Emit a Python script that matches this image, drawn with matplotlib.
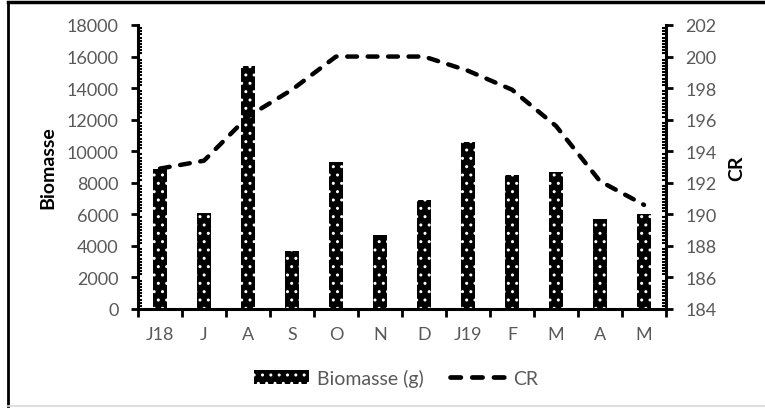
import matplotlib
matplotlib.use("Agg")
import matplotlib.pyplot as plt
from matplotlib.lines import Line2D
from matplotlib.ticker import MultipleLocator
import numpy as np

plt.rcParams['font.family'] = ['Lato', 'DejaVu Sans']
plt.rcParams['hatch.linewidth'] = 1.0

# data
months = ['J18', 'J', 'A', 'S', 'O', 'N', 'D', 'J19', 'F', 'M', 'A', 'M']
biomasse = [8900, 6100, 15400, 3700, 9300, 4700, 6900, 10600, 8500, 8700, 5700, 6000]
cr = [192.9, 193.4, 196.2, 197.9, 200.0, 200.0, 200.0, 199.1, 197.9, 195.6, 192.1, 190.6]

grey = '#595959'
dash = (0, (2.2, 2.4))

fig = plt.figure(figsize=(7.65, 4.10), dpi=100)
ax = fig.add_axes([138 / 765, 1 - 310 / 410, (666 - 138) / 765, (310 - 26) / 410])
ax2 = ax.twinx()

x = np.arange(len(months))
bars = ax.bar(x, biomasse, width=0.3, color='black', edgecolor='white', linewidth=0,
              hatch='..', label='Biomasse (g)', zorder=2)
line, = ax2.plot(x, cr, color='black', lw=3.2, ls=dash, dash_capstyle='round',
                 solid_capstyle='round', label='CR', zorder=3)

ax.set_xlim(-0.5, len(months) - 0.5)
ax.set_ylim(0, 18000)
ax2.set_ylim(184, 202)
ax.yaxis.set_major_locator(MultipleLocator(2000))
ax.yaxis.set_minor_locator(MultipleLocator(200))
ax2.yaxis.set_major_locator(MultipleLocator(2))
ax2.yaxis.set_minor_locator(MultipleLocator(0.2))

ax.set_xticks(x)
ax.set_xticklabels(months)
ax.set_xticks(np.arange(len(months) + 1) - 0.5, minor=True)

for a in (ax, ax2):
    for s in a.spines.values():
        s.set_visible(False)
ax.spines['left'].set_visible(True)
ax.spines['bottom'].set_visible(True)
ax2.spines['right'].set_visible(True)
for s in (ax.spines['left'], ax.spines['bottom'], ax2.spines['right']):
    s.set_linewidth(2.2)
    s.set_color('black')

ax.tick_params(axis='x', which='major', length=0, pad=12, labelsize=13, labelcolor=grey)
ax.tick_params(axis='x', which='minor', length=6, width=2, direction='out', color='black')
ax.tick_params(axis='y', which='major', length=5, width=2, direction='out', labelsize=13,
               labelcolor=grey, pad=9)
ax.tick_params(axis='y', which='minor', length=3, width=1.5, direction='in')
ax2.tick_params(axis='y', which='major', length=5, width=2, direction='out', labelsize=13,
                labelcolor=grey, pad=9)
ax2.tick_params(axis='y', which='minor', length=3, width=1.5, direction='in')

ax.set_ylabel('Biomasse', fontsize=14, fontweight='bold')
ax2.set_ylabel('CR', fontsize=14, fontweight='bold')
ax.yaxis.set_label_coords((56 - 138) / 528, 0.5)
ax2.yaxis.set_label_coords((728 - 138) / 528, 0.5)

handles = [bars, Line2D([], [], color='black', lw=3.4, ls=dash, dash_capstyle='round')]
fig.legend(handles, ['Biomasse (g)', 'CR'], loc='center', bbox_to_anchor=(396 / 765, 1 - 379 / 410),
           ncol=2, frameon=False, fontsize=14, labelcolor=grey, handlelength=2.8,
           columnspacing=1.3, handletextpad=0.45)

# outer chart border
fig.add_artist(Line2D([8 / 765, 8 / 765], [1 - 407 / 410, 1 - 3 / 410], color='black', lw=2))
fig.add_artist(Line2D([8 / 765, 1], [1 - 3 / 410, 1 - 3 / 410], color='black', lw=2.5))
fig.add_artist(Line2D([8 / 765, 1], [1 - 407 / 410, 1 - 407 / 410], color='#d9d9d9', lw=1.2))

fig.savefig('out.png', dpi=100)
